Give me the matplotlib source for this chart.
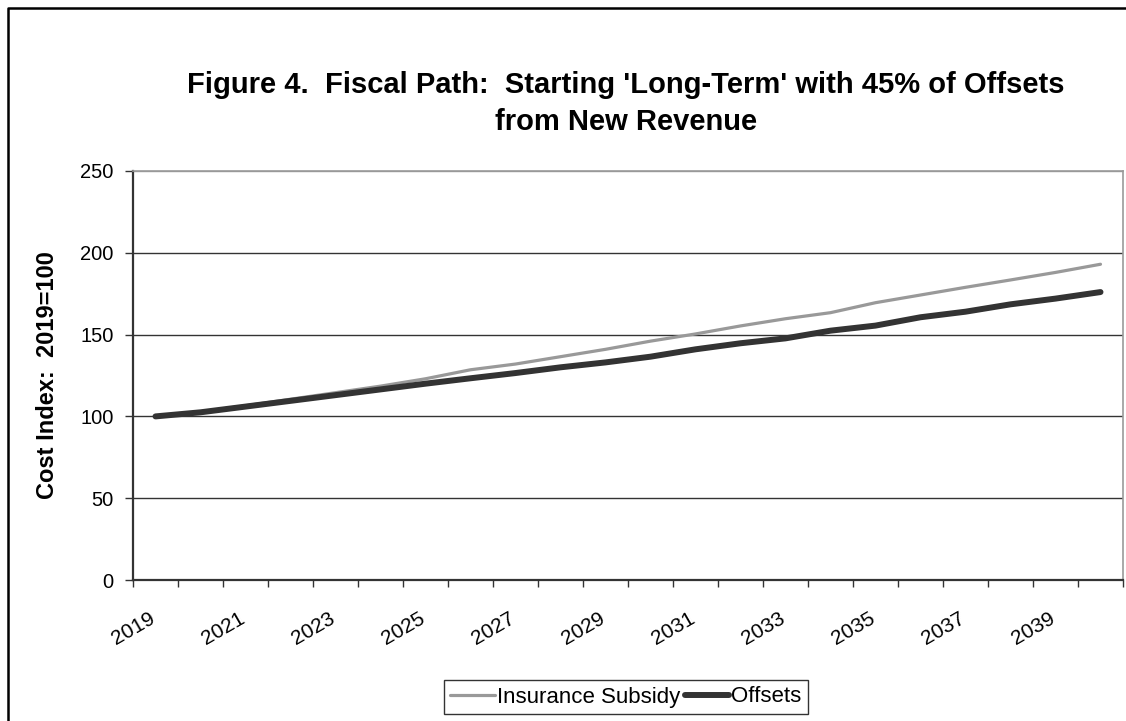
import matplotlib
matplotlib.use("Agg")
import matplotlib.pyplot as plt
import matplotlib.transforms as mtransforms
from matplotlib.lines import Line2D

years = list(range(2019, 2041))
insurance_subsidy = [100, 102.7, 106.5, 110.5, 114.5, 118.5, 123, 128.5, 132, 136.5, 141,
                     146, 150.4, 155.3, 159.7, 163.4, 169.5, 174.2, 178.9, 183.4, 188, 193]
offsets = [100, 102.5, 106, 109.5, 113, 116.5, 120, 123.3, 126.5, 130, 133,
           136.5, 141, 144.7, 147.7, 152.4, 155.5, 160.6, 164, 168.5, 172, 176]
label_years = [str(y) for y in years[::2]]
yticks = [0, 50, 100, 150, 200, 250]

plt.rcParams['font.family'] = ['Liberation Sans', 'DejaVu Sans']

W, H = 1126, 721
fig = plt.figure(figsize=(W / 100, H / 100), dpi=100)

def fx(px):
    return px / W

def fy(py):
    return 1 - py / H

ax = fig.add_axes([fx(133), fy(580), fx(1123) - fx(133), fy(171) - fy(580)])

x = list(range(len(years)))
ax.plot(x, insurance_subsidy, color='#999999', lw=2.3, solid_capstyle='round',
        label='Insurance Subsidy', zorder=3)
ax.plot(x, offsets, color='#333333', lw=4.3, solid_capstyle='round',
        label='Offsets', zorder=4)

ax.set_xlim(-0.5, len(years) - 0.5)
ax.set_ylim(0, 250)

# y axis
ax.set_yticks(yticks)
ax.set_yticklabels([str(v) for v in yticks], fontsize=14.5)
ax.tick_params(axis='y', direction='out', length=6, width=1, pad=8, color='#333333')
for v in yticks[1:]:
    ax.axhline(v, color='#999999' if v == 250 else '#333333', lw=1.0, zorder=1)

# x axis: ticks at category boundaries, labels at even category centers
ax.set_xticks([i - 0.5 for i in range(len(years) + 1)])
ax.set_xticklabels([])
ax.tick_params(axis='x', which='major', direction='out', length=5, width=1, color='#333333')
ax.set_xticks(x[::2], minor=True)
ax.set_xticklabels(label_years, minor=True, fontsize=15, rotation=30,
                   ha='right', va='top', rotation_mode='anchor')
ax.tick_params(axis='x', which='minor', length=0, pad=21)
off = mtransforms.ScaledTranslation(-7 / 100, 0, fig.dpi_scale_trans)
for lab in ax.get_xticklabels(minor=True):
    lab.set_transform(lab.get_transform() + off)

for s in ['left', 'bottom']:
    ax.spines[s].set_color('#333333')
    ax.spines[s].set_linewidth(1.6)
for s in ['top', 'right']:
    ax.spines[s].set_color('#999999')
    ax.spines[s].set_linewidth(1.2)

fig.text(fx(48), fy(375), 'Cost Index:  2019=100', fontsize=17, fontweight='bold',
         rotation=90, ha='center', va='center')

# title
fig.text(fx(626), fy(85), "Figure 4.  Fiscal Path:  Starting 'Long-Term' with 45% of Offsets",
         fontsize=21, fontweight='bold', ha='center', va='center')
fig.text(fx(626), fy(122), "from New Revenue",
         fontsize=21, fontweight='bold', ha='center', va='center')

# legend
leg = fig.legend(loc='center', bbox_to_anchor=(fx(626), fy(697)), ncol=2,
                 fontsize=16, frameon=True, fancybox=False, handlelength=2.0,
                 handletextpad=0.1, columnspacing=0.2, borderpad=0.3)
leg.get_frame().set_edgecolor('black')
leg.get_frame().set_linewidth(1.0)

# outer chart border (left and top visible; rest cropped)
fig.add_artist(Line2D([fx(8), fx(8), 1.0], [0, fy(8), fy(8)], transform=fig.transFigure,
                      color='black', lw=1.8, zorder=0))

fig.savefig('out.png', dpi=100)
